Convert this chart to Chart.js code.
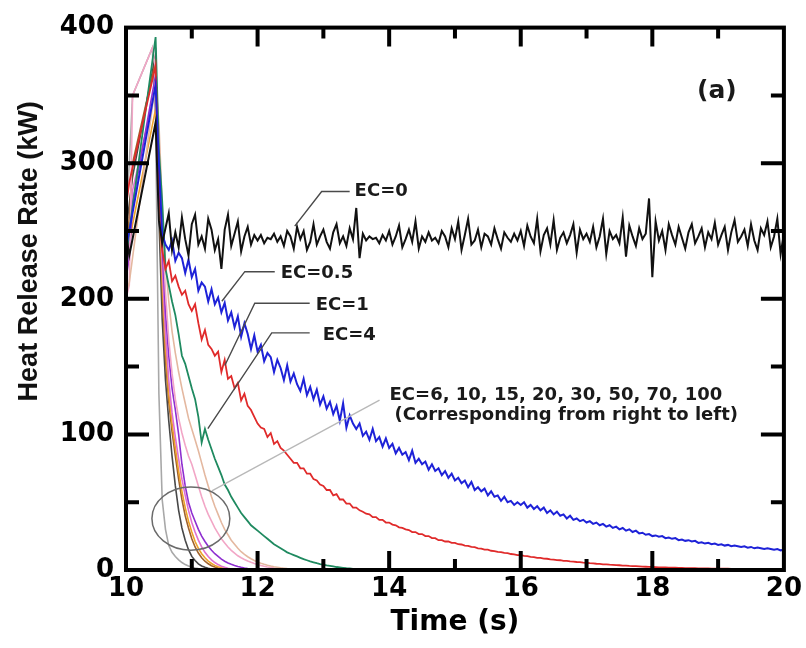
<!DOCTYPE html>
<html><head><meta charset="utf-8">
<script src="https://cdn.jsdelivr.net/npm/chart.js@4.4.1/dist/chart.umd.min.js"></script>
<style>html,body{margin:0;padding:0;background:#fff;}canvas{display:block;}</style>
</head><body>
<canvas id="c" width="806" height="648"></canvas>
<script>
// Time grid (s)
const time = [
10.00,10.05,10.10,10.15,10.20,10.25,10.30,10.35,10.40,10.45,
10.50,10.55,10.60,10.65,10.70,10.75,10.80,10.85,10.90,10.95,
11.00,11.05,11.10,11.15,11.20,11.25,11.30,11.35,11.40,11.45,
11.50,11.55,11.60,11.65,11.70,11.75,11.80,11.85,11.90,11.95,
12.00,12.05,12.10,12.15,12.20,12.25,12.30,12.35,12.40,12.45,
12.50,12.55,12.60,12.65,12.70,12.75,12.80,12.85,12.90,12.95,
13.00,13.05,13.10,13.15,13.20,13.25,13.30,13.35,13.40,13.45,
13.50,13.55,13.60,13.65,13.70,13.75,13.80,13.85,13.90,13.95,
14.00,14.05,14.10,14.15,14.20,14.25,14.30,14.35,14.40,14.45,
14.50,14.55,14.60,14.65,14.70,14.75,14.80,14.85,14.90,14.95,
15.00,15.05,15.10,15.15,15.20,15.25,15.30,15.35,15.40,15.45,
15.50,15.55,15.60,15.65,15.70,15.75,15.80,15.85,15.90,15.95,
16.00,16.05,16.10,16.15,16.20,16.25,16.30,16.35,16.40,16.45,
16.50,16.55,16.60,16.65,16.70,16.75,16.80,16.85,16.90,16.95,
17.00,17.05,17.10,17.15,17.20,17.25,17.30,17.35,17.40,17.45,
17.50,17.55,17.60,17.65,17.70,17.75,17.80,17.85,17.90,17.95,
18.00,18.05,18.10,18.15,18.20,18.25,18.30,18.35,18.40,18.45,
18.50,18.55,18.60,18.65,18.70,18.75,18.80,18.85,18.90,18.95,
19.00,19.05,19.10,19.15,19.20,19.25,19.30,19.35,19.40,19.45,
19.50,19.55,19.60,19.65,19.70,19.75,19.80,19.85,19.90,19.95,
20.00];

// Heat release rate (kW) per extinction coefficient
const hrrEC0 = [
248,232,null,null,null,null,null,null,null,330,
258,241,252,263,236,249,238,260,244,232,
255,262,240,246,237,259,251,236,244,222,
251,262,239,248,257,235,246,253,240,247,
243,247,241,245,244,248,242,246,239,250,
246,237,253,244,250,236,242,255,240,246,
251,242,237,249,255,241,246,239,252,244,
267,230,248,243,246,244,245,241,247,243,
250,240,246,254,238,244,251,242,257,237,
246,242,249,243,245,241,250,246,238,252,
244,257,236,247,259,240,243,251,238,248,
246,240,252,244,237,249,245,242,248,243,
250,239,254,246,241,259,235,247,252,240,
258,236,245,249,241,247,255,234,251,244,
248,242,253,238,246,259,233,250,244,247,
241,260,231,254,246,239,252,244,248,274,
216,257,243,250,236,255,247,240,253,245,
237,249,255,241,246,252,238,249,244,256,
240,247,253,236,249,258,242,246,251,239,
255,243,236,252,247,257,238,246,259,233,
248];
const hrrEC05 = [
238,250,null,null,null,null,null,null,null,358,
300,248,240,236,243,228,234,230,219,229,
216,222,206,212,209,198,207,196,201,190,
197,184,190,179,187,172,182,174,163,173,
161,166,154,160,157,146,155,149,140,151,
139,145,137,132,141,129,135,126,133,122,
128,119,124,115,121,110,123,105,114,108,
104,108,99,102,96,104,95,98,91,97,
90,93,86,90,85,87,81,88,79,82,
78,80,74,78,73,75,70,73,68,71,
66,68,64,66,61,65,59,61,58,60,
55,58,54,55,51,54,50,51,48,50,
48,50,46,48,45,47,44,46,42,44,
41,43,40,41,38,40,37,38,36,37,
35,36,34,35,33,34,32,33,31,32,
30,31,29,30,28,29,27,27.5,26,26.5,
25,25.5,24.5,25,23.5,24,23,23.5,22,22.5,
21.5,22,21,21.5,20,20.5,19.5,20,19,19.5,
18.5,19,18,18.5,17.5,18,17.5,17,17.5,16.5,
17,16,16.5,16,15.5,16,15.5,15,15.5,14.5,
15];
const hrrEC1 = [
268,286,null,null,null,null,null,null,null,372,
285,236,222,228,213,217,209,203,206,196,
191,196,182,170,177,166,163,158,161,146,
155,141,143,134,138,125,130,121,118,113,
108,105,104,98,101,93,95,90,88,85,
82,79,79,75,75,71,71,67,66,63,
62,59,59,55,56,52,52,49,49,46,
46,44,43,41.5,41,39,39,37,37,35,
35,33.5,33,31.5,31,30,29.5,28,28,26.5,
26.5,25,25,23.5,23.5,22,22,21,21,20,
20,19,18.8,18,17.8,17,16.8,16,15.8,15,
15,14.2,14,13.4,13.2,12.6,12.4,11.8,11.6,11,
11,10.4,10.2,9.7,9.5,9,8.9,8.4,8.3,7.9,
7.7,7.3,7.2,6.8,6.7,6.3,6.2,5.9,5.8,5.4,
5.3,5.0,4.9,4.6,4.5,4.2,4.1,3.9,3.8,3.6,
3.5,3.3,3.2,3.0,2.9,2.8,2.7,2.5,2.4,2.3,
2.2,2.1,2.0,1.9,1.85,1.8,1.7,1.65,1.6,1.5,
1.45,1.4,1.35,1.3,1.25,1.2,1.15,1.1,1.08,1.05,
1.0,0.98,0.95,0.92,0.9,0.87,0.85,0.82,0.8,0.78,
0.76,0.74,0.72,0.7,0.68,0.66,0.64,0.62,0.6,0.58,
0.56];
const hrrEC4 = [
228,250,null,null,null,null,null,null,null,393,
310,272,222,210,198,188,174,158,152,143,
134,126,113,94,104,96,89,82,76,70,
63,59,54,50,46,42,39,36,33,31,
29,27,25,23,21,19,17.5,16,14.5,13,
12,11,10,9,8,7.2,6.4,5.7,5,4.4,
3.9,3.4,3.0,2.6,2.2,1.9,1.6,1.3,1.1,0.9,
0.7,0.5,0.4,0.3,0.2,0.1,0];
const hrrEC6 = [
205,212,null,null,null,null,null,null,null,360,
330,270,228,198,176,160,146,134,123,112,
104,96,88,79,70,62,54,47,41,35,
30,26,22,19,16,13.5,11.5,9.8,8.3,7,
5.9,5,4.2,3.5,2.9,2.4,2,1.6,1.3,1,
0.8,0.6,0.4,0.25,0.1,0];
const hrrEC10 = [
200,210,350,null,null,null,null,null,385,370,
320,255,205,170,145,126,112,101,92,84,
78,70,62,54,47,41,36,31,27,23,
20,17,14.5,12.5,10.5,9,7.8,6.7,5.7,4.8,
4,3.3,2.7,2.2,1.8,1.4,1.1,0.8,0.6,0.4,
0.2,0];
const hrrEC15 = [
215,230,270,null,null,null,null,null,null,365,
310,240,190,158,134,118,100,78,62,50,
42,36,30,25,21,17.5,14.5,12,10,8,
6.5,5.2,4.2,3.3,2.6,2,1.5,1.1,0.8,0.5,
0.3,0];
const hrrEC20 = [
220,240,280,null,null,null,null,null,null,355,
300,225,175,140,116,98,82,67,55,44,
35,28,22,17,13,10,7.5,5.5,4,2.8,
2,1.3,0.8,0.4,0];
const hrrEC30 = [
225,240,255,null,null,null,null,null,null,340,
290,215,165,130,108,90,73,58,46,36,
28,21,16,12,9,6.6,4.8,3.4,2.4,1.6,
1.1,0.6,0.3,0];
const hrrEC50 = [
235,260,300,null,null,null,null,null,null,375,
280,205,155,124,102,84,67,52,40,31,
23,17,12.5,9,6.5,4.6,3.2,2.2,1.5,1,
0.6,0.3,0];
const hrrEC70 = [
250,270,290,null,null,null,null,null,null,380,
260,185,140,110,84,62,44,31,22,15,
10,7,4.5,3,2,1.3,0.8,0.4,0];
const hrrEC100 = [
262,300,350,null,null,null,null,null,385,330,
130,52,30,18,13,10,7.5,5.5,4,3,
2.2,1.5,1,0.6,0.3,0];

// Axis tick values
const xMajorTicks = [12, 14, 16, 18];
const xMinorTicks = [11, 13, 15, 17, 19];
const yMajorTicks = [100, 200, 300];
const yMinorTicks = [50, 150, 250, 350];

// Series styling
const series = [
  {label: 'EC=0',   values: hrrEC0,   color: '#111111', width: 2.0},
  {label: 'EC=0.5', values: hrrEC05,  color: '#1e22d8', width: 2.0},
  {label: 'EC=1',   values: hrrEC1,   color: '#e02a2a', width: 1.8},
  {label: 'EC=4',   values: hrrEC4,   color: '#1f8a60', width: 1.8},
  {label: 'EC=6',   values: hrrEC6,   color: '#e4b8a0', width: 1.6},
  {label: 'EC=10',  values: hrrEC10,  color: '#f2a6c6', width: 1.6},
  {label: 'EC=15',  values: hrrEC15,  color: '#8e2fd0', width: 1.6},
  {label: 'EC=20',  values: hrrEC20,  color: '#e070d0', width: 1.6},
  {label: 'EC=30',  values: hrrEC30,  color: '#eea22a', width: 1.6},
  {label: 'EC=50',  values: hrrEC50,  color: '#a0622c', width: 1.6},
  {label: 'EC=70',  values: hrrEC70,  color: '#484848', width: 1.6},
  {label: 'EC=100', values: hrrEC100, color: '#a8a8a8', width: 1.6}
];

// Annotation layout (in data units)
const annotations = {
  leaders: [
    {pts: [[12.565, 253.6], [12.974, 279.1], [13.40, 279.1]], color: '#4a4a4a', width: 1.4},
    {pts: [[11.457, 198.2], [11.806, 220.0], [12.261, 220.0]], color: '#4a4a4a', width: 1.4},
    {pts: [[11.502, 150.8], [11.957, 196.7], [12.792, 196.7]], color: '#4a4a4a', width: 1.4},
    {pts: [[11.244, 104.2], [12.215, 174.9], [12.792, 174.9]], color: '#4a4a4a', width: 1.4},
    {pts: [[11.305, 58.3], [13.854, 125.3]], color: '#b8b8b8', width: 1.3}
  ],
  texts: [
    {text: 'EC=0', t: 13.475, v: 279.0, size: 18},
    {text: 'EC=0.5', t: 12.352, v: 219.0, size: 18},
    {text: 'EC=1', t: 12.883, v: 195.3, size: 18},
    {text: 'EC=4', t: 12.990, v: 173.4, size: 18},
    {text: 'EC=6, 10, 15, 20, 30, 50, 70, 100', t: 14.006, v: 129.0, size: 18},
    {text: '(Corresponding from right to left)', t: 14.080, v: 114.4, size: 18},
    {text: '(a)', t: 18.68, v: 352.6, size: 25}
  ],
  ellipse: {t: 10.986, v: 37.9, rt: 0.592, rv: 23.3, color: '#6a6a6a', width: 1.5},
  yTitle: {text: 'Heat Release Rate (kW)', x: 30, v: 235, size: 27}
};

const overlay = {
  id: 'overlay',
  afterDatasetsDraw(chart) {
    const ctx = chart.ctx, xs = chart.scales.x, ys = chart.scales.y, a = chart.chartArea;
    const P = (t, v) => [xs.getPixelForValue(t), ys.getPixelForValue(v)];
    ctx.save();
    annotations.leaders.forEach(l => {
      ctx.beginPath();
      l.pts.forEach((p, i) => { const q = P(p[0], p[1]); i ? ctx.lineTo(q[0], q[1]) : ctx.moveTo(q[0], q[1]); });
      ctx.strokeStyle = l.color; ctx.lineWidth = l.width; ctx.stroke();
    });
    const e = annotations.ellipse, c = P(e.t, e.v);
    const rx = Math.abs(xs.getPixelForValue(e.t + e.rt) - c[0]);
    const ry = Math.abs(ys.getPixelForValue(e.v + e.rv) - c[1]);
    ctx.beginPath(); ctx.ellipse(c[0], c[1], rx, ry, 0, 0, Math.PI * 2);
    ctx.strokeStyle = e.color; ctx.lineWidth = e.width; ctx.stroke();
    ctx.fillStyle = '#1a1a1a'; ctx.textAlign = 'left'; ctx.textBaseline = 'middle';
    annotations.texts.forEach(t => {
      ctx.font = 'bold ' + t.size + 'px "DejaVu Sans"';
      const q = P(t.t, t.v); ctx.fillText(t.text, q[0], q[1]);
    });
    ctx.strokeStyle = '#000'; ctx.lineWidth = 4;
    ctx.strokeRect(a.left, a.top, a.right - a.left, a.bottom - a.top);
    ctx.lineCap = 'butt';
    const xt = (v, len) => { const x = xs.getPixelForValue(v); ctx.beginPath(); ctx.moveTo(x, a.bottom); ctx.lineTo(x, a.bottom - len); ctx.moveTo(x, a.top); ctx.lineTo(x, a.top + len); ctx.stroke(); };
    const yt = (v, len) => { const y = ys.getPixelForValue(v); ctx.beginPath(); ctx.moveTo(a.left, y); ctx.lineTo(a.left + len, y); ctx.moveTo(a.right, y); ctx.lineTo(a.right - len, y); ctx.stroke(); };
    xMajorTicks.forEach(v => xt(v, 19)); xMinorTicks.forEach(v => xt(v, 11));
    yMajorTicks.forEach(v => yt(v, 23)); yMinorTicks.forEach(v => yt(v, 13));
    const yt2 = annotations.yTitle;
    ctx.translate(yt2.x, ys.getPixelForValue(yt2.v)); ctx.rotate(-Math.PI / 2);
    ctx.font = 'bold ' + yt2.size + 'px "Liberation Sans"'; ctx.textAlign = 'center'; ctx.fillStyle = '#111';
    ctx.fillText(yt2.text, 0, 0);
    ctx.restore();
  }
};

new Chart(document.getElementById('c'), {
  type: 'line',
  data: {
    datasets: series.map(s => ({
      label: s.label,
      data: s.values.map((v, i) => ({x: time[i], y: v})),
      borderColor: s.color, borderWidth: s.width,
      pointRadius: 0, tension: 0, spanGaps: true, fill: false
    }))
  },
  options: {
    responsive: false, animation: false, devicePixelRatio: 1,
    layout: {padding: {top: 21, right: 21, bottom: 0, left: 12}},
    plugins: {legend: {display: false}, tooltip: {enabled: false}},
    scales: {
      x: {
        type: 'linear', min: 10, max: 20,
        ticks: {stepSize: 2, color: '#000', padding: 4, font: {family: '"DejaVu Sans"', weight: 'bold', size: 26}},
        grid: {display: false, drawTicks: false}, border: {display: false},
        title: {display: true, text: 'Time (s)', color: '#000', font: {family: '"DejaVu Sans"', weight: 'bold', size: 28}, padding: {top: 0, bottom: 8}},
        afterFit: s => { s.height = 78; }
      },
      y: {
        type: 'linear', min: 0, max: 400,
        ticks: {stepSize: 100, color: '#000', padding: 12, font: {family: '"DejaVu Sans"', weight: 'bold', size: 26}},
        grid: {display: false, drawTicks: false}, border: {display: false},
        afterFit: s => { s.width = 114; }
      }
    }
  },
  plugins: [overlay]
});
</script>
</body></html>
